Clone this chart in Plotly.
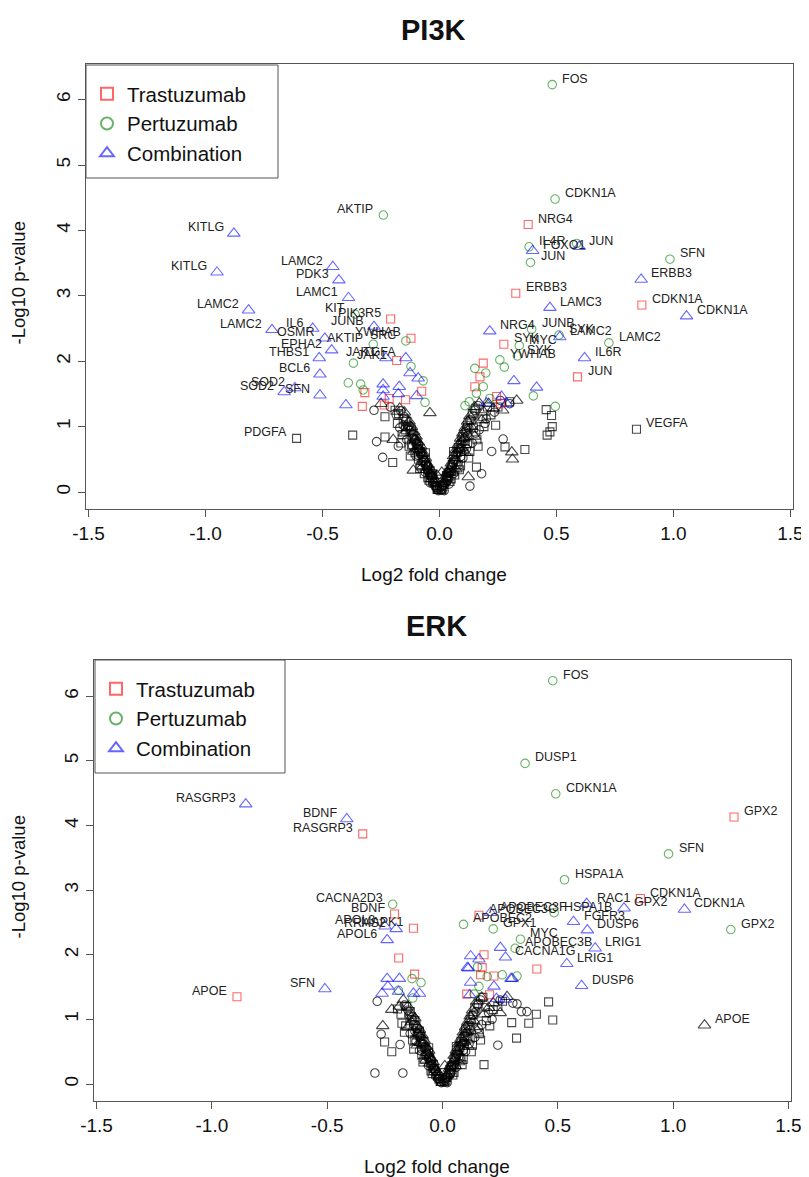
import plotly.graph_objects as go

# ---------------- data ----------------
TICKS_X = [-1.5, -1.0, -0.5, 0.0, 0.5, 1.0, 1.5]
TICK_TEXT_X = ["-1.5", "-1.0", "-0.5", "0.0", "0.5", "1.0", "1.5"]
TICKS_Y = [0, 1, 2, 3, 4, 5, 6]
SERIES = ["Trastuzumab", "Pertuzumab", "Combination"]
PANELS = ["PI3K", "ERK"]

# ---- PI3K ----
pi3k_tra_x = [0.379, 0.326, 0.865, 0.590, 0.275, -0.209, -0.122, -0.183,
              -0.319, -0.330, -0.215, -0.236, -0.145, -0.076, 0.187, 0.173, 0.151, 0.244, 0.261]
pi3k_tra_y = [4.09, 3.04, 2.86, 1.76, 2.26, 2.645, 2.35, 2.01,
              1.52, 1.31, 1.43, 1.33, 1.41, 1.54, 1.97, 1.76, 1.61, 1.46, 1.35]
pi3k_tra_lab = ["NRG4", "ERBB3", "CDKN1A", "JUN", "SYK", "PIK3R5", "YWHAB", "JAK1",
                "", "", "", "", "", "", "", "", "", "", ""]

pi3k_per_x = [0.482, 0.494, 0.383, 0.389, 0.985, 0.724, 0.394, 0.511, 0.341, 0.333, 0.258,
              -0.240, -0.361, -0.144, -0.283,
              0.586, 0.401, 0.495, 0.151, 0.198, 0.187, 0.127, 0.109, 0.215, 0.158, 0.277,
              -0.368, -0.390, -0.337, -0.326, -0.070, -0.062, -0.122]
pi3k_per_y = [6.23, 4.48, 3.75, 3.51, 3.56, 2.28, 2.49, 2.40, 2.24, 2.08, 2.02,
              4.235, 2.72, 2.31, 2.26,
              3.80, 1.47, 1.31, 1.89, 1.82, 1.61, 1.38, 1.32, 1.43, 1.51, 1.91,
              1.97, 1.67, 1.65, 1.56, 1.70, 1.37, 1.92]
pi3k_per_lab = ["FOS", "CDKN1A", "IL4R", "JUN", "SFN", "LAMC2", "JUNB", "SYK", "MYC", "SYK", "YWHAB",
                "AKTIP", "KIT", "SRC", "AKTIP",
                "", "", "", "", "", "", "", "", "", "", "",
                "", "", "", "", "", "", ""]

pi3k_com_x = [-0.879, -0.951, -0.456, -0.430, -0.389, -0.816, -0.716, -0.542, -0.490, -0.280,
              -0.461, -0.514, -0.229, -0.144, -0.511, -0.664, -0.618, -0.511,
              0.398, 0.597, 0.862, 1.056, 0.472, 0.215, 0.514, 0.620,
              -0.400, -0.241, -0.241, -0.172, -0.176, -0.241, -0.098, -0.126, -0.091,
              0.318, 0.415, 0.265, 0.201, 0.287]
pi3k_com_y = [3.955, 3.36, 3.445, 3.24, 2.97, 2.78, 2.48, 2.50, 2.35, 2.53,
              2.17, 2.05, 2.05, 2.05, 1.80, 1.53, 1.59, 1.48,
              3.69, 3.75, 3.25, 2.69, 2.82, 2.46, 2.37, 2.05,
              1.33, 1.65, 1.56, 1.61, 1.50, 1.46, 1.47, 1.82, 1.74,
              1.70, 1.60, 1.46, 1.36, 1.35]
pi3k_com_lab = ["KITLG", "KITLG", "LAMC2", "PDK3", "LAMC1", "LAMC2", "LAMC2", "IL6", "OSMR", "JUNB",
                "EPHA2", "THBS1", "JAK1", "TGFA", "BCL6", "SOD2", "SOD2", "SFN",
                "FOXO1", "JUN", "ERBB3", "CDKN1A", "LAMC3", "NRG4", "LAMC2", "IL6R",
                "", "", "", "", "", "", "", "", "",
                "", "", "", "", ""]

# non-significant genes (black)
pi3k_nsq_x = [-0.611, 0.842, -0.02, -0.04, -0.06, -0.08, -0.10, -0.12, -0.14, -0.05, -0.09, -0.13,
              -0.16, -0.18, -0.233, -0.371, -0.20, -0.233, 0.02, 0.04, 0.06, 0.08, 0.10, 0.12,
              0.14, 0.05, 0.09, 0.13, 0.16, 0.19, 0.22, 0.158, 0.28, 0.365, 0.456, 0.479,
              0.482, 0.472, 0.460, 0.25, -0.19, 0.01, -0.01, 0.03, -0.03,
              -0.015, -0.035, -0.055, -0.075, -0.095, -0.115, -0.135, -0.155, -0.045, -0.085,
              -0.125, -0.165, -0.105, -0.145, -0.175, -0.065, 0.015, 0.035, 0.055, 0.075,
              0.095, 0.115, 0.135, 0.155, 0.045, 0.085, 0.125, 0.165, 0.105, 0.145, 0.185,
              0.205, 0.065, 0.24, 0.30,
              -0.01, -0.03, -0.05, -0.07, -0.09, -0.11, 0.01, 0.03, 0.05, 0.07, 0.09, 0.11,
              -0.04, 0.04, -0.08, 0.08, 0.0, -0.12, 0.12, -0.06, 0.06]
pi3k_nsq_y = [0.82, 0.96, 0.15, 0.32, 0.45, 0.62, 0.78, 0.95, 1.08, 0.22, 0.50, 0.70,
              0.88, 1.05, 0.84, 0.87, 0.45, 1.15, 0.12, 0.30, 0.50, 0.68, 0.85, 1.02,
              1.20, 0.20, 0.40, 0.62, 0.80, 1.00, 1.18, 0.38, 0.69, 0.65, 1.26, 1.17,
              1.00, 0.92, 0.87, 1.30, 1.25, 0.05, 0.07, 0.25, 0.28,
              0.10, 0.26, 0.40, 0.58, 0.72, 0.86, 1.00, 1.12, 0.18, 0.36,
              0.55, 0.75, 0.60, 0.95, 1.20, 0.28, 0.08, 0.22, 0.42, 0.60,
              0.78, 0.95, 1.10, 1.28, 0.16, 0.34, 0.52, 0.70, 0.62, 0.98, 1.15,
              1.30, 0.26, 1.02, 1.38,
              0.04, 0.16, 0.34, 0.48, 0.66, 0.80, 0.03, 0.18, 0.32, 0.46, 0.62, 0.78,
              0.22, 0.24, 0.40, 0.42, 0.10, 0.72, 0.74, 0.60, 0.62]
pi3k_nsq_lab = ["PDGFA", "VEGFA"] + [""] * 99

pi3k_nci_x = [-0.01, -0.03, -0.05, -0.07, -0.09, -0.11, -0.13, -0.15, -0.06, -0.10, -0.14, -0.17,
              -0.269, -0.243, -0.176, -0.28, -0.21, 0.01, 0.03, 0.05, 0.07, 0.09, 0.11, 0.13,
              0.15, 0.06, 0.10, 0.14, 0.17, 0.20, 0.272, 0.223, 0.130, 0.18, 0.30, 0.02,
              -0.02, 0.04, -0.04,
              -0.025, -0.045, -0.065, -0.085, -0.105, -0.125, -0.145, -0.165, -0.035, -0.075,
              -0.115, -0.155, -0.185, 0.025, 0.045, 0.065, 0.085, 0.105, 0.125, 0.145,
              0.165, 0.035, 0.075, 0.115, 0.155, 0.195, 0.235, 0.26,
              -0.005, -0.015, -0.04, -0.06, -0.08, -0.10, 0.005, 0.015, 0.04, 0.06, 0.08,
              0.10, -0.05, 0.05, -0.09, 0.09, -0.12, 0.12]
pi3k_nci_y = [0.05, 0.20, 0.38, 0.55, 0.72, 0.88, 1.02, 1.15, 0.30, 0.55, 0.80, 0.98,
              0.77, 0.53, 0.70, 1.25, 1.30, 0.08, 0.22, 0.40, 0.58, 0.75, 0.92, 1.10,
              1.25, 0.28, 0.52, 0.75, 0.95, 1.12, 0.81, 0.62, 0.09, 0.28, 1.35, 0.02,
              0.10, 0.12, 0.14,
              0.14, 0.30, 0.48, 0.64, 0.80, 0.94, 1.10, 1.24, 0.24, 0.46,
              0.70, 1.02, 1.18, 0.14, 0.30, 0.48, 0.66, 0.82, 0.98, 1.16,
              1.32, 0.18, 0.42, 0.66, 0.90, 1.05, 1.22, 1.40,
              0.02, 0.08, 0.26, 0.42, 0.58, 0.74, 0.03, 0.10, 0.28, 0.44, 0.60,
              0.76, 0.40, 0.38, 0.56, 0.54, 0.84, 0.86]

pi3k_ntr_x = [0.0, -0.02, -0.04, -0.06, -0.08, -0.10, -0.12, -0.15, -0.07, -0.11, -0.15, -0.198,
              -0.112, -0.041, -0.25, 0.02, 0.04, 0.06, 0.08, 0.10, 0.12, 0.15, 0.07, 0.11,
              0.15, 0.18, 0.123, 0.312, 0.309, 0.21, 0.27, 0.33, 0.01, -0.01,
              -0.03, -0.05, -0.07, -0.09, -0.11, -0.13, -0.17, -0.055, -0.095, -0.135,
              0.03, 0.05, 0.07, 0.09, 0.11, 0.13, 0.17, 0.055, 0.095, 0.135, 0.19, 0.23,
              -0.015, -0.035, -0.065, -0.085, 0.015, 0.035, 0.065, 0.085, -0.105, 0.105]
pi3k_ntr_y = [0.02, 0.18, 0.35, 0.52, 0.70, 0.85, 1.00, 1.22, 0.40, 0.62, 0.90, 0.80,
              0.33, 1.21, 1.35, 0.16, 0.34, 0.55, 0.72, 0.90, 1.08, 1.30, 0.35, 0.60,
              0.85, 1.10, 0.23, 0.50, 0.61, 1.35, 1.25, 1.40, 0.30, 0.25,
              0.24, 0.42, 0.60, 0.76, 0.92, 1.08, 1.28, 0.34, 0.66, 0.98,
              0.26, 0.44, 0.64, 0.82, 0.98, 1.16, 1.36, 0.30, 0.68, 1.00, 1.22, 1.28,
              0.12, 0.28, 0.50, 0.64, 0.13, 0.30, 0.52, 0.66, 0.80, 0.82]

# ---- ERK ----
erk_tra_x = [1.264, -0.346, -0.208, -0.126, -0.891, 0.858, 0.158,
             -0.190, 0.180, 0.409, 0.165, 0.223, 0.105, 0.204, 0.172, -0.121]
erk_tra_y = [4.13, 3.87, 2.63, 2.41, 1.35, 2.87, 2.61,
             1.95, 2.00, 1.78, 1.69, 1.67, 1.39, 1.38, 1.80, 1.70]
erk_tra_lab = ["GPX2", "RASGRP3", "BDNF", "MAPK1", "APOE", "CDKN1A", "APOBEC3C",
               "", "", "", "", "", "", "", "", ""]

erk_per_x = [0.478, 0.358, 0.491, 0.980, 0.529, 1.250, 0.484, 0.091, 0.220, 0.338, -0.216, 0.315,
             0.152, 0.194, 0.259, 0.323, 0.158, 0.137, -0.132, -0.093, -0.191, -0.129]
erk_per_y = [6.24, 4.96, 4.49, 3.56, 3.16, 2.39, 2.65, 2.47, 2.40, 2.24, 2.78, 2.10,
             1.81, 1.66, 1.69, 1.67, 1.51, 1.39, 1.63, 1.57, 1.45, 1.33]
erk_per_lab = ["FOS", "DUSP1", "CDKN1A", "SFN", "HSPA1A", "GPX2", "HSPA1B", "APOBEC2", "GPX1", "MYC",
               "CACNA2D3", "APOBEC3B",
               "", "", "", "", "", "", "", "", "", ""]

erk_com_x = [-0.853, -0.415, -0.510, -0.249, -0.201, -0.240, 1.049, 0.787, 0.625, 0.568, 0.628,
             0.662, 0.539, 0.603, 0.208, 0.273,
             0.122, 0.158, 0.108, 0.122, 0.223, 0.118, 0.234, 0.297, 0.251, -0.240, -0.187,
             -0.237, -0.262, -0.191, -0.126, -0.100, 0.112, 0.302, 0.273]
erk_com_y = [4.33, 4.10, 1.47, 2.44, 2.40, 2.23, 2.70, 2.72, 2.79, 2.51, 2.38,
             2.10, 1.86, 1.52, 2.65, 1.96,
             1.98, 1.93, 1.80, 1.57, 1.51, 1.38, 1.32, 1.63, 2.11, 1.63, 1.63,
             1.51, 1.40, 1.43, 1.40, 1.40, 1.79, 1.63, 1.31]
erk_com_lab = ["RASGRP3", "BDNF", "SFN", "APOL3", "RRAS2", "APOL6", "CDKN1A", "GPX2", "RAC1", "FGFR3",
               "DUSP6", "LRIG1", "LRIG1", "DUSP6", "APOBEC3F", "CACNA1G",
               "", "", "", "", "", "", "", "", "", "", "",
               "", "", "", "", "", "", "", ""]

erk_nsq_x = [-0.02, -0.04, -0.06, -0.08, -0.10, -0.12, -0.14, -0.05, -0.09, -0.13, -0.16, -0.18,
             -0.251, -0.176, -0.22, 0.02, 0.04, 0.06, 0.08, 0.10, 0.12, 0.14, 0.05, 0.09,
             0.13, 0.16, 0.19, 0.22, 0.460, 0.407, 0.478, 0.374, 0.321, 0.26, 0.30, 0.18,
             -0.015, -0.035, -0.055, -0.075, -0.095, -0.115, -0.135, -0.155, -0.045, -0.085,
             -0.125, -0.165, -0.195, 0.015, 0.035, 0.055, 0.075, 0.095, 0.115, 0.135,
             0.155, 0.175, 0.045, 0.085, 0.125, 0.165, 0.205, 0.24,
             -0.01, -0.03, -0.05, -0.07, -0.09, -0.11, 0.01, 0.03, 0.05, 0.07, 0.09, 0.11,
             -0.04, 0.04, -0.08, 0.08, 0.0, -0.12, 0.12, -0.06, 0.06]
erk_nsq_y = [0.12, 0.30, 0.48, 0.65, 0.82, 0.98, 1.12, 0.20, 0.45, 0.68, 0.90, 1.08,
             0.65, 0.94, 0.50, 0.10, 0.28, 0.48, 0.66, 0.84, 1.00, 1.18, 0.18, 0.38,
             0.60, 0.78, 0.98, 1.15, 1.27, 1.08, 0.99, 0.94, 0.71, 1.28, 0.95, 0.30,
             0.08, 0.24, 0.40, 0.56, 0.74, 0.90, 1.04, 1.20, 0.16, 0.34,
             0.54, 0.80, 1.16, 0.06, 0.20, 0.38, 0.56, 0.74, 0.90, 1.08,
             1.24, 1.34, 0.14, 0.30, 0.50, 0.68, 0.90, 1.20,
             0.04, 0.15, 0.32, 0.46, 0.62, 0.76, 0.03, 0.16, 0.30, 0.44, 0.60, 0.74,
             0.21, 0.22, 0.38, 0.40, 0.09, 0.68, 0.70, 0.56, 0.58]

erk_nci_x = [-0.01, -0.03, -0.05, -0.07, -0.09, -0.11, -0.13, -0.15, -0.06, -0.10, -0.14, -0.283,
             -0.266, -0.184, -0.293, -0.172, 0.01, 0.03, 0.05, 0.07, 0.09, 0.11, 0.13, 0.15,
             0.06, 0.10, 0.14, 0.17, 0.20, 0.342, 0.305, 0.366, 0.323, 0.24, 0.02, -0.02,
             -0.025, -0.045, -0.065, -0.085, -0.105, -0.125, -0.145, -0.165, -0.035, -0.075,
             -0.115, 0.025, 0.045, 0.065, 0.085, 0.105, 0.125, 0.145, 0.165, 0.185,
             0.035, 0.075, 0.115, 0.155, 0.215, 0.25,
             -0.005, -0.015, -0.04, -0.06, -0.08, -0.10, 0.005, 0.015, 0.04, 0.06, 0.08,
             0.10, -0.05, 0.05, -0.09, 0.09, -0.12, 0.12]
erk_nci_y = [0.04, 0.20, 0.36, 0.54, 0.70, 0.86, 1.00, 1.14, 0.28, 0.52, 0.78, 1.28,
             0.77, 0.61, 0.17, 0.17, 0.06, 0.22, 0.40, 0.58, 0.74, 0.90, 1.06, 1.22,
             0.26, 0.50, 0.72, 0.92, 1.10, 1.12, 1.25, 1.12, 1.24, 0.60, 0.02, 0.08,
             0.14, 0.30, 0.46, 0.62, 0.78, 0.92, 1.06, 1.22, 0.22, 0.44,
             0.66, 0.12, 0.28, 0.46, 0.62, 0.80, 0.96, 1.12, 1.30, 1.18,
             0.16, 0.40, 0.62, 0.86, 1.00, 1.30,
             0.02, 0.08, 0.25, 0.40, 0.56, 0.72, 0.03, 0.09, 0.27, 0.42, 0.58,
             0.74, 0.38, 0.36, 0.54, 0.52, 0.82, 0.84]

erk_ntr_x = [1.136, 0.0, -0.02, -0.04, -0.06, -0.08, -0.10, -0.12, -0.15, -0.07, -0.11, -0.15,
             -0.259, -0.220, -0.187, 0.02, 0.04, 0.06, 0.08, 0.10, 0.12, 0.15, 0.07, 0.11,
             0.15, 0.18, 0.22, 0.28, 0.01,
             -0.03, -0.05, -0.07, -0.09, -0.11, -0.13, -0.17, -0.055, -0.095, -0.135,
             0.03, 0.05, 0.07, 0.09, 0.11, 0.13, 0.17, 0.055, 0.095, 0.135, 0.20, 0.25,
             -0.015, -0.035, -0.065, -0.085, 0.015, 0.035, 0.065, 0.085, -0.105, 0.105]
erk_ntr_y = [0.91, 0.02, 0.17, 0.34, 0.52, 0.68, 0.84, 1.02, 1.20, 0.38, 0.60, 0.88,
             0.90, 1.15, 1.20, 0.15, 0.32, 0.52, 0.70, 0.88, 1.05, 1.28, 0.34, 0.58,
             0.82, 1.08, 1.25, 1.35, 0.28,
             0.22, 0.40, 0.58, 0.76, 0.90, 1.06, 1.30, 0.32, 0.64, 0.96,
             0.24, 0.44, 0.62, 0.80, 0.96, 1.14, 1.34, 0.28, 0.66, 0.98, 1.18, 1.10,
             0.11, 0.26, 0.48, 0.62, 0.12, 0.28, 0.50, 0.64, 0.78, 0.80]
erk_ntr_lab = ["APOE"] + [""] * 60

# ---------------- styling ----------------
W, H = 809, 1177
OFF = 8  # default page body margin of the html page
FONT = "Liberation Sans"
RED = "rgba(255,0,0,0.6)"
GREEN = "rgba(0,128,0,0.6)"
BLUE = "rgba(0,0,255,0.6)"
BLACK = "rgba(0,0,0,0.72)"
BOXC = "#555"


def PX(x):
    return (x - OFF) / W


def PY(y):
    return 1 - (y - OFF) / H


# pixel geometry of the two plot boxes (left, right, top, bottom) and legend boxes
BOX = {"PI3K": (86, 793, 64, 509), "ERK": (94, 791, 660, 1101)}
LEGBOX = {"PI3K": (86, 278, 65, 178), "ERK": (95, 285, 660, 773)}
YR = {"PI3K": [-0.26, 6.545], "ERK": [-0.263, 6.56]}
XR = [-1.511, 1.511]

fig = go.Figure()


def add_markers(xs, ys, symbol, color, size, name, ax, legend, showlegend):
    fig.add_trace(go.Scatter(
        x=xs, y=ys, mode="markers", name=name,
        marker=dict(symbol=symbol, size=size, color=color, line=dict(color=color, width=1.1)),
        xaxis="x" + ax, yaxis="y" + ax, legend=legend, showlegend=showlegend, hoverinfo="skip"))


label_annotations = []


def add_labels(groups, ax):
    for xs, ys, labs in groups:
        for xv, yv, t in zip(xs, ys, labs):
            if t:
                left = xv < 0
                label_annotations.append(dict(
                    x=xv, y=yv, xref="x" + ax, yref="y" + ax, text=t, showarrow=False,
                    xanchor="right" if left else "left", yanchor="middle",
                    xshift=-8 if left else 8, yshift=6,
                    font=dict(size=12.5, family=FONT, color="#222")))


panels = {
    "PI3K": dict(ax="", legend="legend",
                 black=[(pi3k_nsq_x, pi3k_nsq_y, "square-open"), (pi3k_nci_x, pi3k_nci_y, "circle-open"),
                        (pi3k_ntr_x, pi3k_ntr_y, "triangle-up-open")],
                 col=[(pi3k_tra_x, pi3k_tra_y, pi3k_tra_lab), (pi3k_per_x, pi3k_per_y, pi3k_per_lab),
                      (pi3k_com_x, pi3k_com_y, pi3k_com_lab)],
                 blabels=[(pi3k_nsq_x, pi3k_nsq_y, pi3k_nsq_lab)]),
    "ERK": dict(ax="2", legend="legend2",
                black=[(erk_nsq_x, erk_nsq_y, "square-open"), (erk_nci_x, erk_nci_y, "circle-open"),
                       (erk_ntr_x, erk_ntr_y, "triangle-up-open")],
                col=[(erk_tra_x, erk_tra_y, erk_tra_lab), (erk_per_x, erk_per_y, erk_per_lab),
                     (erk_com_x, erk_com_y, erk_com_lab)],
                blabels=[(erk_ntr_x, erk_ntr_y, erk_ntr_lab)]),
}

SYMS = ["square-open", "circle-open", "triangle-up-open"]
COLS = [RED, GREEN, BLUE]
SIZES = [8, 8.5, 11]

for pname in PANELS:
    p = panels[pname]
    for (xs, ys, sym) in p["black"]:
        add_markers(xs, ys, sym, BLACK, SIZES[SYMS.index(sym)], "ns", p["ax"], p["legend"], False)
    for i, (xs, ys, labs) in enumerate(p["col"]):
        add_markers(xs, ys, SYMS[i], COLS[i], SIZES[i], SERIES[i], p["ax"], p["legend"], True)
    add_labels(p["col"] + p["blabels"], p["ax"])

layout = dict(width=W, height=H, margin=dict(l=0, r=0, t=0, b=0, autoexpand=False),
              template="none",
              paper_bgcolor="white", plot_bgcolor="white",
              font=dict(family=FONT, color="#111"), annotations=[], shapes=[])

for pname in PANELS:
    l, r, t, b = BOX[pname]
    ax = panels[pname]["ax"]
    axis_common = dict(showline=True, linecolor=BOXC, linewidth=1, mirror=True, automargin=False,
                       ticks="outside", ticklen=7, tickcolor=BOXC, tickwidth=1,
                       showgrid=False, zeroline=False,
                       tickfont=dict(size=19, family=FONT, color="#111"))
    layout["xaxis" + ax] = dict(domain=[PX(l), PX(r)], range=XR, anchor="y" + ax,
                                tickvals=TICKS_X, ticktext=TICK_TEXT_X, **axis_common)
    layout["yaxis" + ax] = dict(domain=[PY(b), PY(t)], range=YR[pname], anchor="x" + ax,
                                tickvals=TICKS_Y, tickangle=-90, **axis_common)
    ll, lr, lt, lb = LEGBOX[pname]
    layout[panels[pname]["legend"]] = dict(
        x=PX(ll + 1), y=PY(lt + 9), xanchor="left", yanchor="top",
        borderwidth=0, bgcolor="rgba(0,0,0,0)",
        font=dict(size=20.5, family=FONT, color="#111"), traceorder="normal",
        tracegroupgap=0, itemsizing="constant")
    layout["shapes"].append(dict(type="rect", xref="paper", yref="paper",
                                 x0=PX(ll), x1=PX(lr), y0=PY(lb), y1=PY(lt),
                                 line=dict(color=BOXC, width=1), fillcolor="rgba(0,0,0,0)",
                                 layer="above"))
    cx = PX((l + r) / 2 - 6)
    layout["annotations"] += [
        dict(text="<b>" + pname + "</b>", x=cx, y=PY(t - 34), xref="paper", yref="paper",
             xanchor="center", yanchor="middle", showarrow=False,
             font=dict(size=29, family=FONT, color="#111")),
        dict(text="Log2 fold change", x=cx, y=PY(b + 65), xref="paper", yref="paper",
             xanchor="center", yanchor="middle", showarrow=False,
             font=dict(size=19, family=FONT, color="#111")),
        dict(text="-Log10 p-value", x=PX(18), y=PY((t + b) / 2 - 3), xref="paper", yref="paper",
             xanchor="center", yanchor="middle", showarrow=False, textangle=-90,
             font=dict(size=18.5, family=FONT, color="#111")),
    ]

layout["annotations"] += label_annotations
fig.update_layout(**layout)
fig.write_html("out.html")
